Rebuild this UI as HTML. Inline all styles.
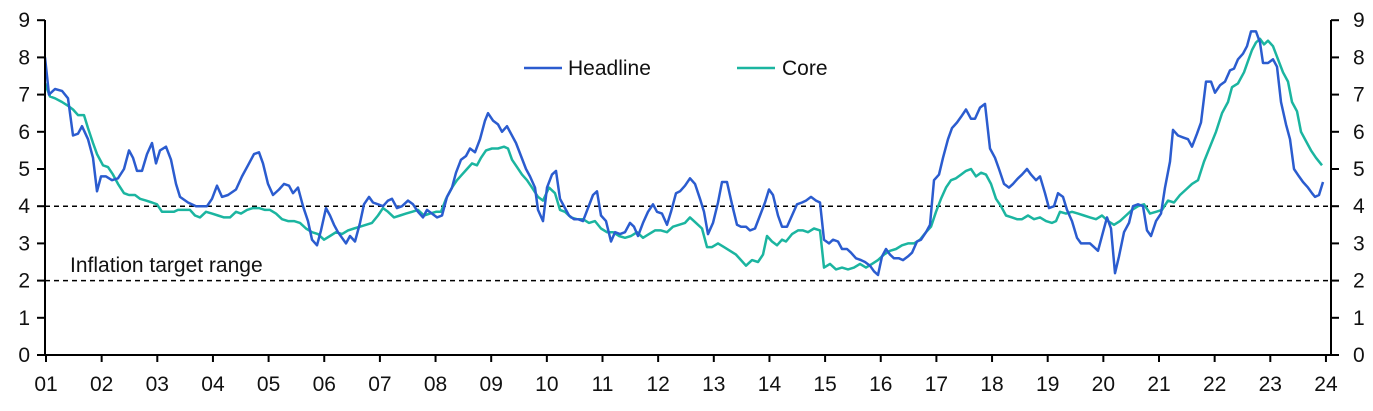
<!DOCTYPE html>
<html><head><meta charset="utf-8"><style>
body{margin:0;background:#fff;}
svg text{font-family:"Liberation Sans",sans-serif;font-size:21px;fill:#111;}
</style></head><body>
<svg id="s" width="1373" height="406" xmlns="http://www.w3.org/2000/svg">
<g id="g"></g>
</svg>
<script>
const H=[45,8.0,49,7.0,55,7.15,62,7.1,68,6.9,73,5.9,78,5.95,82,6.15,88,5.8,93,5.3,97,4.4,101,4.8,106,4.8,112,4.7,118,4.75,124,5.0,129,5.5,133,5.3,137,4.95,142,4.95,147,5.4,152,5.7,156,5.15,160,5.5,166,5.6,171,5.25,176,4.6,180,4.25,188,4.1,196,4.0,207,4.0,212,4.2,217,4.55,222,4.25,228,4.3,236,4.45,242,4.8,248,5.1,254,5.4,259,5.45,263,5.15,268,4.6,273,4.3,279,4.45,284,4.6,289,4.55,293,4.35,298,4.5,303,4.0,308,3.6,312,3.1,317,2.95,321,3.35,326,3.95,330,3.75,334,3.5,338,3.3,342,3.15,346,3.0,350,3.2,355,3.05,360,3.55,364,4.05,369,4.25,373,4.1,378,4.05,383,4.0,388,4.15,392,4.2,397,3.95,402,4.0,408,4.15,413,4.05,418,3.85,423,3.7,427,3.9,432,3.8,437,3.7,442,3.75,447,4.25,452,4.5,456,4.9,461,5.25,466,5.35,470,5.55,475,5.45,480,5.8,485,6.3,488,6.5,493,6.3,498,6.2,502,6.0,507,6.15,511,5.95,516,5.7,521,5.35,526,5.0,530,4.8,535,4.5,538,3.9,543,3.6,547,4.5,552,4.85,556,4.95,560,4.2,565,3.95,569,3.75,574,3.65,578,3.65,583,3.6,588,3.95,593,4.3,597,4.4,601,3.75,606,3.6,611,3.05,615,3.3,620,3.25,625,3.3,630,3.55,634,3.45,638,3.2,643,3.55,648,3.85,653,4.05,657,3.85,662,3.8,667,3.5,671,3.85,676,4.35,680,4.4,685,4.55,690,4.75,695,4.6,700,4.2,704,3.85,708,3.25,713,3.55,718,4.1,722,4.65,727,4.65,732,4.05,737,3.5,741,3.45,746,3.45,750,3.35,755,3.4,760,3.75,765,4.1,769,4.45,773,4.3,778,3.75,782,3.45,787,3.45,792,3.75,797,4.05,802,4.1,806,4.15,811,4.25,816,4.15,820,4.1,824,3.1,829,3.0,833,3.1,838,3.05,842,2.85,847,2.85,851,2.75,856,2.6,861,2.55,865,2.5,870,2.4,874,2.25,878,2.15,882,2.65,886,2.85,890,2.7,894,2.6,899,2.6,903,2.55,908,2.65,912,2.75,917,3.05,921,3.1,926,3.3,930,3.5,934,4.7,939,4.85,943,5.3,948,5.8,952,6.1,957,6.25,961,6.4,966,6.6,971,6.35,975,6.35,980,6.65,985,6.75,990,5.55,995,5.3,999,5.0,1004,4.6,1009,4.5,1013,4.6,1018,4.75,1022,4.85,1027,5.0,1031,4.85,1036,4.7,1040,4.8,1045,4.35,1049,3.95,1054,4.0,1058,4.35,1063,4.25,1067,3.9,1072,3.6,1077,3.15,1081,3.0,1086,3.0,1090,3.0,1094,2.9,1098,2.8,1103,3.3,1107,3.7,1111,3.4,1115,2.2,1119,2.65,1124,3.3,1129,3.55,1133,4.0,1138,4.05,1143,4.0,1147,3.35,1151,3.2,1156,3.6,1161,3.8,1165,4.5,1170,5.2,1173,6.05,1178,5.9,1183,5.85,1188,5.8,1192,5.6,1197,5.95,1201,6.25,1206,7.35,1211,7.35,1215,7.05,1220,7.25,1225,7.35,1230,7.65,1234,7.7,1238,7.95,1243,8.1,1247,8.3,1251,8.7,1256,8.7,1260,8.4,1263,7.85,1268,7.85,1273,7.95,1277,7.75,1281,6.8,1286,6.2,1290,5.8,1294,5.0,1299,4.8,1303,4.65,1308,4.5,1312,4.35,1315,4.25,1319,4.3,1323,4.65];
const C=[45,7.3,50,6.95,55,6.9,62,6.8,68,6.7,73,6.6,78,6.45,84,6.45,88,6.1,93,5.7,97,5.4,103,5.1,108,5.05,113,4.85,118,4.6,124,4.35,129,4.3,135,4.3,140,4.2,146,4.15,152,4.1,157,4.05,162,3.85,168,3.85,174,3.85,178,3.9,184,3.9,190,3.9,195,3.75,200,3.7,206,3.85,212,3.8,218,3.75,224,3.7,230,3.7,236,3.85,241,3.8,247,3.9,253,3.95,259,3.95,265,3.9,270,3.9,276,3.8,282,3.65,288,3.6,294,3.6,300,3.55,306,3.4,312,3.3,318,3.25,324,3.1,330,3.2,336,3.3,342,3.25,348,3.35,354,3.4,360,3.45,366,3.5,372,3.55,378,3.75,383,3.95,388,3.85,394,3.7,400,3.75,406,3.8,412,3.85,418,3.9,424,3.75,430,3.8,436,3.85,441,3.85,446,4.2,452,4.5,457,4.7,462,4.85,467,5.0,472,5.15,477,5.1,481,5.3,486,5.5,492,5.55,498,5.55,504,5.6,508,5.55,512,5.25,517,5.05,522,4.85,527,4.7,532,4.5,538,4.25,543,4.15,549,4.5,555,4.35,560,3.9,565,3.85,571,3.7,577,3.65,583,3.65,589,3.55,595,3.6,601,3.4,607,3.3,613,3.3,619,3.2,625,3.15,631,3.2,637,3.3,643,3.15,649,3.25,655,3.35,661,3.35,667,3.3,673,3.45,679,3.5,685,3.55,690,3.7,696,3.55,702,3.4,707,2.9,712,2.9,718,3.0,724,2.9,730,2.8,736,2.7,741,2.55,746,2.4,752,2.55,758,2.5,763,2.7,767,3.2,772,3.05,777,2.95,782,3.1,786,3.05,792,3.25,798,3.35,803,3.35,808,3.3,814,3.4,820,3.35,824,2.35,830,2.45,836,2.3,842,2.35,848,2.3,854,2.35,860,2.45,866,2.35,872,2.45,878,2.55,884,2.7,890,2.8,896,2.85,902,2.95,908,3.0,914,3.0,920,3.1,926,3.3,931,3.45,936,3.85,941,4.2,946,4.5,951,4.7,956,4.75,961,4.85,966,4.95,971,5.0,976,4.8,981,4.9,986,4.85,991,4.6,996,4.2,1001,4.0,1006,3.75,1012,3.7,1017,3.65,1022,3.65,1028,3.75,1034,3.65,1040,3.7,1046,3.6,1052,3.55,1056,3.6,1060,3.85,1066,3.8,1072,3.85,1078,3.8,1084,3.75,1090,3.7,1096,3.65,1102,3.75,1108,3.6,1114,3.5,1120,3.6,1126,3.75,1132,3.9,1138,4.0,1144,4.05,1150,3.8,1156,3.85,1162,3.9,1168,4.15,1174,4.1,1180,4.3,1186,4.45,1192,4.6,1198,4.7,1204,5.2,1210,5.6,1216,6.0,1222,6.5,1228,6.8,1232,7.2,1238,7.3,1244,7.6,1248,7.9,1252,8.2,1256,8.4,1260,8.5,1264,8.35,1268,8.45,1273,8.3,1278,7.95,1283,7.6,1288,7.35,1292,6.8,1297,6.55,1301,6.0,1306,5.75,1311,5.5,1316,5.3,1322,5.1];
const Y=v=>355-v*37.2;
let o='';
const pts=a=>{let s=[];for(let i=0;i<a.length;i+=2)s.push(a[i]+','+Y(a[i+1]).toFixed(1));return s.join(' ');};
o+=`<line x1="45" y1="${Y(4)}" x2="1331" y2="${Y(4)}" stroke="#000" stroke-width="1.5" stroke-dasharray="5,4"/>`;
o+=`<line x1="45" y1="${Y(2)}" x2="1331" y2="${Y(2)}" stroke="#000" stroke-width="1.5" stroke-dasharray="5,4"/>`;
o+=`<polyline points="${pts(C)}" fill="none" stroke="#1bb5a0" stroke-width="2.5" stroke-linejoin="round"/>`;
o+=`<polyline points="${pts(H)}" fill="none" stroke="#2b5ccf" stroke-width="2.5" stroke-linejoin="round"/>`;
o+=`<path d="M45,20V355H1331V20" fill="none" stroke="#000" stroke-width="2"/>`;
for(let v=0;v<=9;v++){const y=Y(v);
o+=`<line x1="37" y1="${y}" x2="45" y2="${y}" stroke="#000" stroke-width="2"/><line x1="1331" y1="${y}" x2="1339" y2="${y}" stroke="#000" stroke-width="2"/>`;
o+=`<text x="30" y="${y+7}" text-anchor="end">${v}</text><text x="1353" y="${y+7}">${v}</text>`;}
for(let i=0;i<=23;i++){const x=46+i*55.65;
o+=`<line x1="${x}" y1="355" x2="${x}" y2="362" stroke="#000" stroke-width="2"/>`;
o+=`<text x="${x}" y="391" text-anchor="middle">${String(i+1).padStart(2,'0')}</text>`;}
o+=`<line x1="524" y1="68" x2="562" y2="68" stroke="#2b5ccf" stroke-width="2.5"/><text x="568" y="75">Headline</text>`;
o+=`<line x1="737" y1="68" x2="775" y2="68" stroke="#1bb5a0" stroke-width="2.5"/><text x="782" y="75">Core</text>`;
o+=`<text x="70" y="272">Inflation target range</text>`;
document.getElementById('g').innerHTML=o;
</script>
</body></html>
